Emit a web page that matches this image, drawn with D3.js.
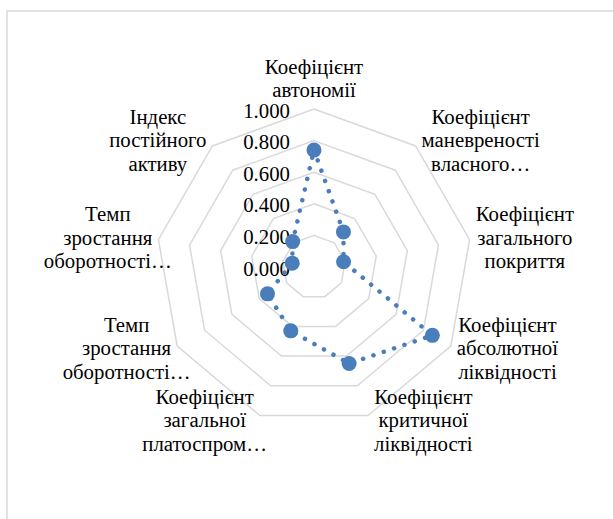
<!DOCTYPE html>
<html>
<head>
<meta charset="utf-8">
<script src="https://cdn.jsdelivr.net/npm/d3@7"></script>
</head>
<body style="margin:0">
<svg id="chart" width="613" height="519" font-family="Liberation Serif"></svg>
<script>
// categories, one entry per radar axis (lines as wrapped in the source)
const categories = [
  ["Коефіцієнт", "автономії"],
  ["Коефіцієнт", "маневреності", "власного…"],
  ["Коефіцієнт", "загального", "покриття"],
  ["Коефіцієнт", "абсолютної", "ліквідності"],
  ["Коефіцієнт", "критичної", "ліквідності"],
  ["Коефіцієнт", "загальної", "платоспром…"],
  ["Темп", "зростання", "оборотності…"],
  ["Темп", "зростання", "оборотності…"],
  ["Індекс", "постійного", "активу"]
];
const values = [0.74, 0.29, 0.19, 0.865, 0.65, 0.43, 0.34, 0.14, 0.21];
const ticks = [0, 0.2, 0.4, 0.6, 0.8, 1.0];

function radar () {
  const W = 613, H = 519;
  const cx = 314, cy = 267, R = 158;
  const fs = 20.8, lineH = 23.5;

  let svg = d3.select('#chart')

  // chart area border (only top/left visible)
  svg.append('rect')
    .attr('x', 7).attr('y', 11)
    .attr('width', W + 10).attr('height', H + 10)
    .style('fill', 'none')
    .style('stroke', '#d9d9d9')
    .style('stroke-width', 1.5)

  let g = svg.append('g').attr('transform', `translate(${cx}, ${cy})`)

  const n = categories.length;
  const angle = d3.scaleLinear().domain([0, n]).range([0, 2 * Math.PI]);
  const r = d3.scaleLinear().domain([0, 1]).range([0, R]);

  // rings
  const ring = d3.lineRadial()
    .angle((d, i) => angle(i))
    .radius(d => r(d))
    .curve(d3.curveLinearClosed);

  g.append('g').attr('class', 'grid')
    .selectAll('path')
    .data(ticks.filter(t => t > 0))
    .join('path')
      .attr('d', t => ring(d3.range(n).map(() => t)))
      .style('fill', 'none')
      .style('stroke', '#d9d9d9')
      .style('stroke-width', 1.5)

  // tick labels
  g.append('g').attr('class', 'ticks')
    .selectAll('text')
    .data(ticks)
    .join('text')
      .attr('x', -24)
      .attr('y', t => -r(t) + 8.5)
      .attr('text-anchor', 'end')
      .attr('font-size', fs)
      .attr('fill', '#000')
      .text(d3.format('.3f'))

  // series line (round dots)
  const pts = values.map((v, i) => [r(v) * Math.sin(angle(i)), -r(v) * Math.cos(angle(i))]);
  g.append('path')
    .attr('d', d3.line().curve(d3.curveLinearClosed)(pts))
    .style('fill', 'none')
    .style('stroke', '#4a7ebb')
    .style('stroke-width', 4.5)
    .style('stroke-linecap', 'round')
    .style('stroke-dasharray', '0.1 10.8')

  g.append('g').attr('class', 'markers')
    .selectAll('circle')
    .data(pts)
    .join('circle')
      .attr('cx', d => d[0])
      .attr('cy', d => d[1])
      .attr('r', 7.5)
      .style('fill', '#4a7ebb')

  // category labels
  let labels = g.append('g').attr('class', 'labels')
  categories.forEach((lines, i) => {
    const a = angle(i);
    const s = Math.sin(a), c = Math.cos(a);
    const vx = R * s, vy = -R * c;
    let t = labels.append('text')
      .attr('font-size', fs)
      .attr('fill', '#000')
      .attr('text-anchor', 'middle');
    let spans = lines.map(l => t.append('tspan').text(l));
    // box width ignores truncated lines
    let w = d3.max(spans.map((sp, k) => lines[k].endsWith('…') ? 0 : sp.node().getComputedTextLength()));
    let h = lines.length * lineH;
    let mx, my;
    if (Math.abs(s) < 0.1) {
      mx = vx; my = vy - c * (h / 2 + 6);
    } else {
      mx = vx + Math.sign(s) * (w / 2 + 6);
      my = vy - c * 6;
    }
    spans.forEach((sp, k) => {
      sp.attr('x', mx).attr('y', my + 6 + (k - (lines.length - 1) / 2) * lineH);
    });
  });
}
radar();
</script>
</body>
</html>
